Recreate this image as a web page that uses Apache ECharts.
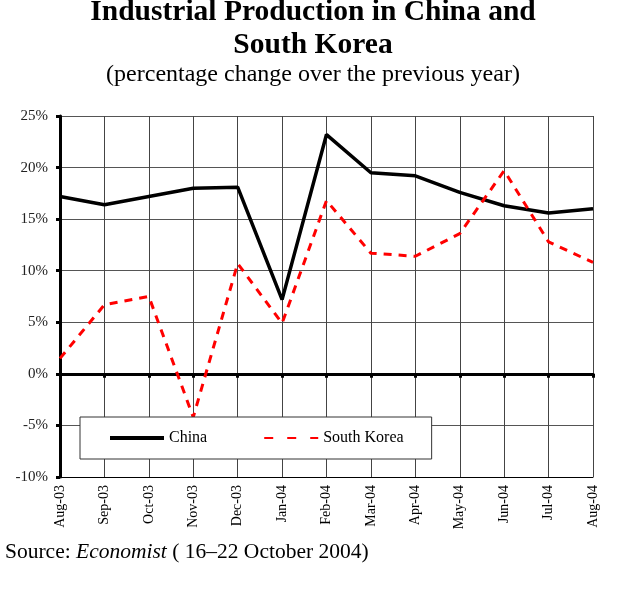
<!DOCTYPE html>
<html>
<head>
<meta charset="utf-8">
<script src="https://cdn.jsdelivr.net/npm/echarts@6/dist/echarts.min.js"></script>
<style>
  html, body { margin: 0; padding: 0; background: #fff; }
  #chart { width: 626px; height: 595px; }
</style>
</head>
<body>
<div id="chart"></div>
<script>
var months = ["Aug-03", "Sep-03", "Oct-03", "Nov-03", "Dec-03", "Jan-04", "Feb-04",
  "Mar-04", "Apr-04", "May-04", "Jun-04", "Jul-04", "Aug-04"];
var china = [17.2, 16.4, 17.2, 18.0, 18.1, 7.2, 23.2, 19.5, 19.2, 17.6, 16.3, 15.6, 16.0];
var southKorea = [1.5, 6.7, 7.5, -4.2, 10.7, 4.9, 16.8, 11.7, 11.4, 13.6, 19.7, 12.8, 10.8];

var serif = "Liberation Serif";

var option = {
  animation: false,
  backgroundColor: "#fff",
  title: [
    {
      text: "Industrial Production in China and\nSouth Korea",
      subtext: "(percentage change over the previous year)",
      left: "center",
      top: -9,
      itemGap: 1,
      textStyle: { fontFamily: serif, fontWeight: "bold", fontSize: 29.5, lineHeight: 33, color: "#000" },
      subtextStyle: { fontFamily: serif, fontSize: 24, lineHeight: 24, color: "#000" }
    },
    {
      text: "Source: {i|Economist} ( 16\u201322 October 2004)",
      left: 0,
      top: 536,
      textStyle: {
        fontFamily: serif, fontWeight: "normal", fontSize: 21.5, lineHeight: 22, color: "#000",
        rich: { i: { fontFamily: serif, fontStyle: "italic", fontSize: 21.5, color: "#000" } }
      }
    }
  ],
  legend: {
    left: 80,
    top: 417,
    padding: [13, 28, 13, 28],
    itemWidth: 54,
    itemHeight: 14,
    itemGap: 56,
    backgroundColor: "#fff",
    borderColor: "#333",
    borderWidth: 1,
    borderRadius: 0,
    itemStyle: { color: "transparent", borderColor: "transparent", borderWidth: 0 },
    textStyle: { fontFamily: serif, fontSize: 16, color: "#000", padding: [4, 0, 0, 0] },
    data: [
      { name: "China", lineStyle: { width: 4 } },
      { name: "South Korea", lineStyle: { type: [9, 14] } }
    ]
  },
  grid: { left: 60, right: 33, top: 116, bottom: 118 },
  xAxis: [
    {
      type: "category",
      data: months,
      boundaryGap: false,
      position: "bottom",
      axisLine: { onZero: false, lineStyle: { color: "#000", width: 1 } },
      axisTick: { show: false },
      axisLabel: { interval: 0, rotate: 90, margin: 8, fontFamily: serif, fontSize: 14, color: "#000" },
      splitLine: { show: true, interval: 0, lineStyle: { color: "#444", width: 1 } }
    },
    {
      type: "category",
      data: months,
      boundaryGap: false,
      position: "bottom",
      axisLine: { onZero: true, onZeroAxisIndex: 0, lineStyle: { color: "#000", width: 3 } },
      axisTick: { show: true, interval: 0, length: 4, lineStyle: { color: "#000", width: 3 } },
      axisLabel: { show: false },
      splitLine: { show: false }
    }
  ],
  yAxis: {
    type: "value",
    min: -10,
    max: 25,
    interval: 5,
    axisLine: { show: true, lineStyle: { color: "#000", width: 3 } },
    axisTick: { show: true, length: 4, lineStyle: { color: "#000", width: 3 } },
    axisLabel: { formatter: "{value}%", margin: 12, fontFamily: serif, fontSize: 15, color: "#222" },
    splitLine: { show: true, lineStyle: { color: "#555", width: 1 } }
  },
  series: [
    {
      name: "China",
      type: "line",
      data: china,
      symbol: "none",
      lineStyle: { color: "#000", width: 3.5 },
      itemStyle: { color: "#000" }
    },
    {
      name: "South Korea",
      type: "line",
      data: southKorea,
      symbol: "none",
      lineStyle: { color: "#ff0000", width: 3, type: [8, 7] },
      itemStyle: { color: "#ff0000" }
    }
  ]
};

var chart = echarts.init(document.getElementById("chart"), null, { renderer: "canvas" });
chart.setOption(option);
</script>
</body>
</html>
